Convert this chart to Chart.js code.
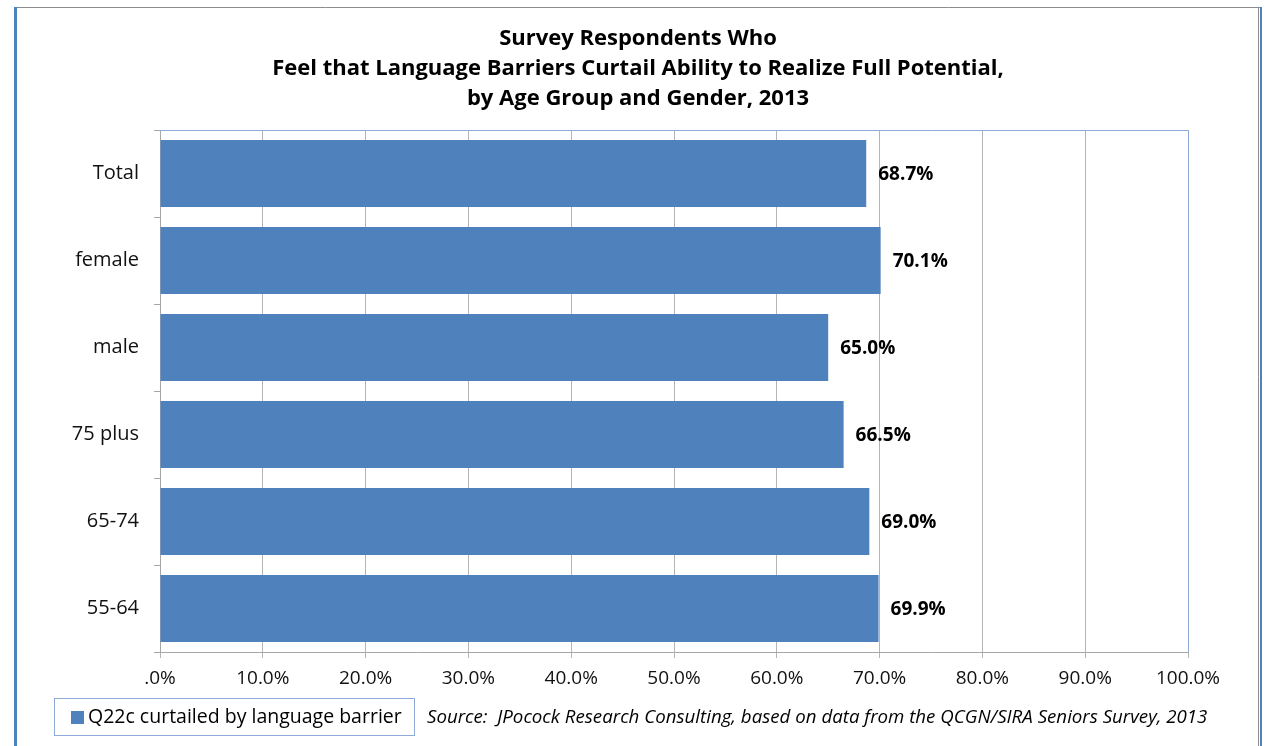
<!DOCTYPE html>
<html>
<head>
<meta charset="utf-8">
<script src="https://cdn.jsdelivr.net/npm/chart.js@4.4.1/dist/chart.umd.min.js"></script>
<style>
  html, body { margin: 0; padding: 0; background: #fff; }
  #wrap { width: 1270px; height: 746px; position: relative; }
</style>
</head>
<body>
<div id="wrap"><canvas id="chart" width="1270" height="746"></canvas></div>
<script>
const categories = ["Total", "female", "male", "75 plus", "65-74", "55-64"];
const values = [68.7, 70.1, 65.0, 66.5, 69.0, 69.9];
const seriesName = "Q22c curtailed by language barrier";
const titleLines = [
  "Survey Respondents Who",
  "Feel that Language Barriers Curtail Ability to Realize Full Potential,",
  "by Age Group and Gender, 2013"
];
const sourceNote = "Source:  JPocock Research Consulting, based on data from the QCGN/SIRA Seniors Survey, 2013";

const FONT = "'Open Sans', sans-serif";
const barColor = "#4f81bd";
const frameBlue = "#8eaadb";

// frame, title, plot border, value labels, legend box and source note
const decorations = {
  id: "decorations",
  beforeDraw(chart) {
    const ctx = chart.ctx;
    ctx.save();
    ctx.fillStyle = "#fff";
    ctx.fillRect(0, 0, chart.width, chart.height);
    // outer frame
    ctx.strokeStyle = "#8c8c8c";
    ctx.lineWidth = 1;
    ctx.beginPath();
    ctx.moveTo(14, 7.5); ctx.lineTo(1260, 7.5);
    ctx.moveTo(1258.5, 7); ctx.lineTo(1258.5, 746);
    ctx.stroke();
    ctx.fillStyle = barColor;
    ctx.fillRect(14, 7, 3, 739);
    ctx.fillRect(1260, 7, 2, 739);

    // title
    ctx.fillStyle = "#000";
    ctx.font = "bold 22px " + FONT;
    ctx.textAlign = "center";
    ctx.textBaseline = "middle";
    titleLines.forEach((line, i) => ctx.fillText(line, 638, 39 + i * 30));
    ctx.restore();
  },
  afterDatasetsDraw(chart) {
    const ctx = chart.ctx;
    const area = chart.chartArea;
    ctx.save();
    // plot area top / right border
    ctx.strokeStyle = frameBlue;
    ctx.lineWidth = 1;
    ctx.beginPath();
    ctx.moveTo(area.left, area.top + 0.5);
    ctx.lineTo(area.right + 0.5, area.top + 0.5);
    ctx.lineTo(area.right + 0.5, area.bottom);
    ctx.stroke();

    // value labels
    ctx.fillStyle = "#000";
    ctx.font = "bold 19px " + FONT;
    ctx.textAlign = "left";
    ctx.textBaseline = "middle";
    chart.getDatasetMeta(0).data.forEach((bar, i) => {
      ctx.fillText(values[i].toFixed(1) + "%", bar.x + 12, bar.y + 1);
    });

    // legend box
    ctx.strokeStyle = frameBlue;
    ctx.strokeRect(54.5, 698.5, 360, 37);
    ctx.fillStyle = barColor;
    ctx.fillRect(71, 711, 13, 13);
    ctx.fillStyle = "#000";
    ctx.font = "19.5px " + FONT;
    ctx.fillText(seriesName, 88, 717);

    // source note
    ctx.font = "italic 18.7px " + FONT;
    ctx.fillText(sourceNote, 427, 718);
    ctx.restore();
  }
};

new Chart(document.getElementById("chart").getContext("2d"), {
  type: "bar",
  data: {
    labels: categories,
    datasets: [{
      label: seriesName,
      data: values,
      backgroundColor: barColor,
      borderWidth: 0,
      categoryPercentage: 1,
      barPercentage: 0.77
    }]
  },
  options: {
    indexAxis: "y",
    responsive: false,
    devicePixelRatio: 1,
    animation: false,
    layout: { padding: { top: 130, right: 82, bottom: 0, left: 0 } },
    plugins: {
      legend: { display: false },
      tooltip: { enabled: false },
      title: { display: false }
    },
    scales: {
      x: {
        min: 0,
        max: 100,
        ticks: {
          stepSize: 10,
          color: "#111",
          padding: 9,
          font: { family: FONT, size: 19 },
          callback: v => v === 0 ? ".0%" : v.toFixed(1) + "%"
        },
        grid: { color: "#b5b5b5", tickLength: 6 },
        border: { color: "#a6a6a6" },
        afterFit(scale) { scale.height = 94; }
      },
      y: {
        ticks: {
          color: "#111",
          padding: 15,
          font: { family: FONT, size: 20 }
        },
        grid: { drawOnChartArea: false, offset: true, tickLength: 6, color: "#a6a6a6" },
        border: { color: "#a6a6a6" },
        afterFit(scale) { scale.width = 160; }
      }
    }
  },
  plugins: [decorations]
});
</script>
</body>
</html>
